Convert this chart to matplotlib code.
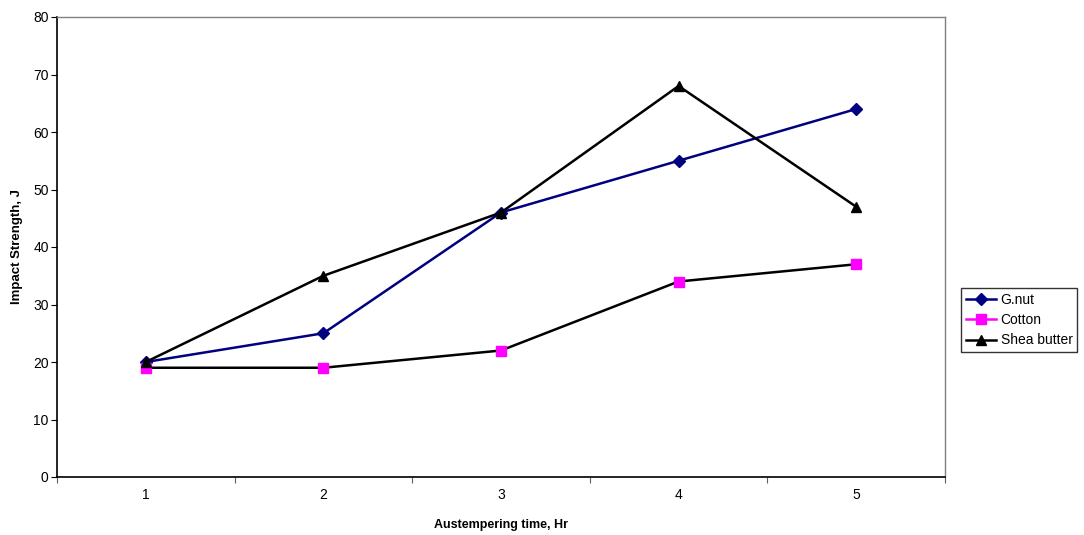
import matplotlib.pyplot as plt
from matplotlib.lines import Line2D

plt.rcParams['font.family'] = ['Liberation Sans', 'DejaVu Sans']

hours = [1, 2, 3, 4, 5]
gnut = [20, 25, 46, 55, 64]
cotton = [19, 19, 22, 34, 37]
shea = [20, 35, 46, 68, 47]

fig = plt.figure(figsize=(10.84, 5.35), dpi=100)
ax = fig.add_axes([57/1084, 58/535, 888/1084, 460/535])

ax.plot(hours, gnut, color='#000080', lw=1.8, marker='D', ms=6, mfc='#000080', mec='#000080')
ax.plot(hours, cotton, color='black', lw=1.8, marker='s', ms=7.5, mfc='#ff00ff', mec='#ff00ff')
ax.plot(hours, shea, color='black', lw=1.8, marker='^', ms=7.5, mfc='black', mec='black')

ax.set_xlim(0.5, 5.5)
ax.set_ylim(0, 80)
ax.set_yticks(range(0, 81, 10))
ax.set_xticks([0.5, 1.5, 2.5, 3.5, 4.5, 5.5])
ax.set_xticklabels([])
ax.set_xticks(hours, minor=True)
ax.set_xticklabels([str(h) for h in hours], minor=True)
ax.tick_params(axis='x', which='minor', length=0, pad=8, labelsize=10)
ax.tick_params(axis='x', which='major', length=4, color='#606060', direction='out')
ax.tick_params(axis='y', length=4, direction='out', labelsize=10, pad=2)

for s in ['top', 'right']:
    ax.spines[s].set_color('#808080')
    ax.spines[s].set_linewidth(1)
for s in ['left', 'bottom']:
    ax.spines[s].set_color('black')
    ax.spines[s].set_linewidth(1.2)

ax.set_xlabel('Austempering time, Hr', fontsize=9, fontweight='bold', labelpad=12)
ax.set_ylabel('Impact Strength, J', fontsize=9.5, fontweight='bold')
ax.yaxis.set_label_coords(-0.038, 0.5)

handles = [
    Line2D([], [], color='#000080', lw=1.8, marker='D', ms=6),
    Line2D([], [], color='#ff00ff', lw=1.8, marker='s', ms=7),
    Line2D([], [], color='black', lw=1.8, marker='^', ms=7),
]
leg = fig.legend(handles, ['G.nut', 'Cotton', 'Shea butter'],
                 loc='upper left', bbox_to_anchor=(961/1084, 1 - 288/535),
                 fontsize=10, frameon=True, fancybox=False, borderpad=0.35,
                 handlelength=2.2, handletextpad=0.3, labelspacing=0.45,
                 borderaxespad=0)
leg.get_frame().set_edgecolor('black')
leg.get_frame().set_linewidth(1)

fig.savefig('out.png', dpi=100)
